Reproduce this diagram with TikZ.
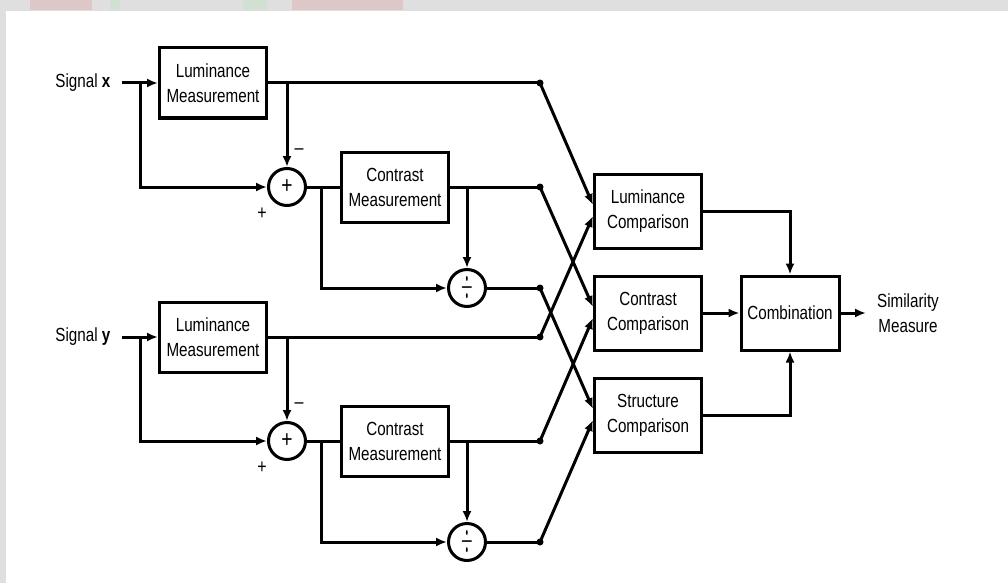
\documentclass[tikz,border=0pt]{standalone}
\usepackage{fontspec}
\setmainfont{Liberation Sans}[FakeStretch=0.8]
\usetikzlibrary{arrows.meta}
\newcommand{\blocktext}{\fontsize{19}{25}\selectfont}
\newcommand{\optext}{\fontsize{24}{24}\selectfont}
\newcommand{\signtext}{\fontsize{20}{20}\selectfont}
\begin{document}
\begin{tikzpicture}[x=1pt,y=-1pt,line width=3pt,
    block/.style={draw,rectangle,minimum width=107pt,minimum height=70pt,align=center,font=\blocktext},
    cmpbox/.style={block,minimum height=74pt},
    op/.style={draw,circle,minimum size=37pt,inner sep=0pt,font=\optext},
    >={Latex[length=11pt,width=9pt]}]
                \useasboundingbox (0,0) rectangle (1008,583);
                \fill[gray!25] (0,0) rectangle (1008,583);
                \fill[red!25!gray!35] (30,0) rectangle (92,10);
                \fill[red!25!gray!35] (292,0) rectangle (403,10);
                \fill[green!20!gray!30] (110,0) rectangle (120,10);
                \fill[green!20!gray!30] (243,0) rectangle (267,10);
                \fill[white] (6,11) rectangle (1008,583);

                \node[block] (lumx) at (213,83) {Luminance\\Measurement};
                \node[op] (sumx) at (287,187) {+};
                \node[block] (conx) at (395,187) {Contrast\\Measurement};
                \node[op] (divx) at (467,288) {\scalebox{0.6}[1.6]{$\div$}};
                \node[anchor=east,inner sep=0pt,font=\blocktext] (sigx) at (114,83) {Signal $\mathbf{x}$};
                \node[font=\signtext] (minx) at (299,152) {--};
                \node[font=\signtext] (plsx) at (262,214) {+};

                \node[block] (lumy) at (213,337) {Luminance\\Measurement};
                \node[op] (sumy) at (287,441) {+};
                \node[block] (cony) at (395,441) {Contrast\\Measurement};
                \node[op] (divy) at (467,542) {\scalebox{0.6}[1.6]{$\div$}};
                \node[anchor=east,inner sep=0pt,font=\blocktext] (sigy) at (114,337) {Signal $\mathbf{y}$};
                \node[font=\signtext] (miny) at (299,406) {--};
                \node[font=\signtext] (plsy) at (262,468) {+};

                \node[cmpbox] (lc) at (648,211) {Luminance\\Comparison};
                \node[cmpbox] (cc) at (648,313) {Contrast\\Comparison};
                \node[cmpbox] (sc) at (648,415) {Structure\\Comparison};
                \node[block,minimum width=98pt,minimum height=74pt] (comb) at (790,313) {Combination};
                \node[align=center,font=\blocktext] (sim) at (908,313) {Similarity\\Measure};

                \coordinate (inx) at (122,83);
                \coordinate (brx) at (140,83);
                \coordinate (bsx) at (321,187);
                \coordinate (dlx) at (540,83);
                \coordinate (dcx) at (540,187);
                \coordinate (dsx) at (540,288);
                \coordinate (iny) at (122,337);
                \coordinate (bry) at (140,337);
                \coordinate (bsy) at (321,441);
                \coordinate (dly) at (540,337);
                \coordinate (dcy) at (540,441);
                \coordinate (dsy) at (540,542);
                \coordinate (outp) at (866,313);

                \draw[->] (inx) -- (lumx);
                \draw[->] (brx) |- (sumx);
                \draw (lumx) -- (dlx);
                \draw[->] (lumx.east -| sumx) -- (sumx);
                \draw (sumx) -- (conx);
                \draw[->] (bsx) |- (divx);
                \draw (conx) -- (dcx);
                \draw[->] (conx.east -| divx) -- (divx);
                \draw (divx) -- (dsx);

                \draw[->] (iny) -- (lumy);
                \draw[->] (bry) |- (sumy);
                \draw (lumy) -- (dly);
                \draw[->] (lumy.east -| sumy) -- (sumy);
                \draw (sumy) -- (cony);
                \draw[->] (bsy) |- (divy);
                \draw (cony) -- (dcy);
                \draw[->] (cony.east -| divy) -- (divy);
                \draw (divy) -- (dsy);

                \foreach \d in {dlx,dcx,dsx,dly,dcy,dsy}
                    \fill (\d) circle (3.5pt);

                \draw[->] (dlx) -- ([yshift=6pt]lc.west);
                \draw[->] (dly) -- ([yshift=-5pt]lc.west);
                \draw[->] (dcx) -- ([yshift=6pt]cc.west);
                \draw[->] (dcy) -- ([yshift=-5pt]cc.west);
                \draw[->] (dsx) -- ([yshift=6pt]sc.west);
                \draw[->] (dsy) -- ([yshift=-5pt]sc.west);

                \draw[->] (lc) -| (comb);
                \draw[->] (cc) -- (comb);
                \draw[->] (sc) -| (comb);
                \draw[->] (comb) -- (outp);
            \end{tikzpicture}
\end{document}
